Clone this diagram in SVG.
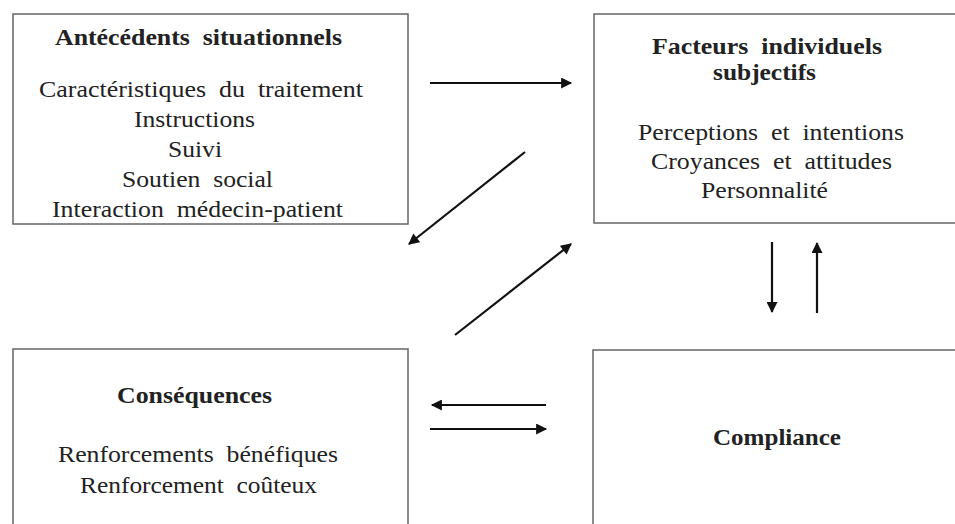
<svg xmlns="http://www.w3.org/2000/svg" width="955" height="524" viewBox="0 0 955 524">
<defs>
<marker id="ah" viewBox="0 0 10 10" refX="9" refY="5" markerWidth="5.5" markerHeight="5" orient="auto" markerUnits="strokeWidth">
<path d="M0,0 L10,5 L0,10 z" fill="#111"/>
</marker>
<style>
.box{fill:#fff;stroke:#666;stroke-width:1.5}
.t{font-family:"Liberation Serif","Times New Roman",serif;fill:#222;text-anchor:middle;word-spacing:6px}
.h{font-weight:bold;font-size:24px}
.b{font-size:24px}
.c{stroke:#111;stroke-width:2.2;fill:none;marker-end:url(#ah)}
</style>
</defs>
<rect width="955" height="524" fill="#fff"/>
<g id="antecedents">
<rect class="box" x="13" y="14" width="395" height="210"/>
<text class="t h" x="198.5" y="45" textLength="287" lengthAdjust="spacingAndGlyphs">Antécédents situationnels</text>
<text class="t b" x="201" y="97" textLength="324" lengthAdjust="spacingAndGlyphs">Caractéristiques du traitement</text>
<text class="t b" x="194.5" y="127" textLength="121" lengthAdjust="spacingAndGlyphs">Instructions</text>
<text class="t b" x="195" y="157" textLength="54" lengthAdjust="spacingAndGlyphs">Suivi</text>
<text class="t b" x="197.5" y="187" textLength="151" lengthAdjust="spacingAndGlyphs">Soutien social</text>
<text class="t b" x="197.5" y="217" textLength="291" lengthAdjust="spacingAndGlyphs">Interaction médecin-patient</text>
</g>
<g id="facteurs">
<rect class="box" x="594" y="14" width="380" height="209"/>
<text class="t h" x="767" y="54" textLength="230" lengthAdjust="spacingAndGlyphs">Facteurs individuels</text>
<text class="t h" x="764.5" y="80" textLength="103" lengthAdjust="spacingAndGlyphs">subjectifs</text>
<text class="t b" x="771" y="140" textLength="266" lengthAdjust="spacingAndGlyphs">Perceptions et intentions</text>
<text class="t b" x="771.5" y="169" textLength="241" lengthAdjust="spacingAndGlyphs">Croyances et attitudes</text>
<text class="t b" x="764.5" y="198" textLength="127" lengthAdjust="spacingAndGlyphs">Personnalité</text>
</g>
<g id="consequences">
<rect class="box" x="13" y="349" width="395" height="200"/>
<text class="t h" x="194.5" y="403" textLength="155" lengthAdjust="spacingAndGlyphs">Conséquences</text>
<text class="t b" x="198" y="462" textLength="280" lengthAdjust="spacingAndGlyphs">Renforcements bénéfiques</text>
<text class="t b" x="198.5" y="493" textLength="237" lengthAdjust="spacingAndGlyphs">Renforcement coûteux</text>
</g>
<g id="compliance">
<rect class="box" x="593" y="350" width="380" height="200"/>
<text class="t h" x="777" y="445" textLength="128" lengthAdjust="spacingAndGlyphs">Compliance</text>
</g>
<g id="connectors">
<line class="c" x1="430" y1="83" x2="571" y2="83"/>
<line class="c" x1="525" y1="152" x2="409" y2="244"/>
<line class="c" x1="455" y1="335" x2="571" y2="244"/>
<line class="c" x1="772" y1="242" x2="772" y2="312"/>
<line class="c" x1="817" y1="313" x2="817" y2="243"/>
<line class="c" x1="546" y1="405" x2="432" y2="405"/>
<line class="c" x1="430" y1="429" x2="546" y2="429"/>
</g>
</svg>
